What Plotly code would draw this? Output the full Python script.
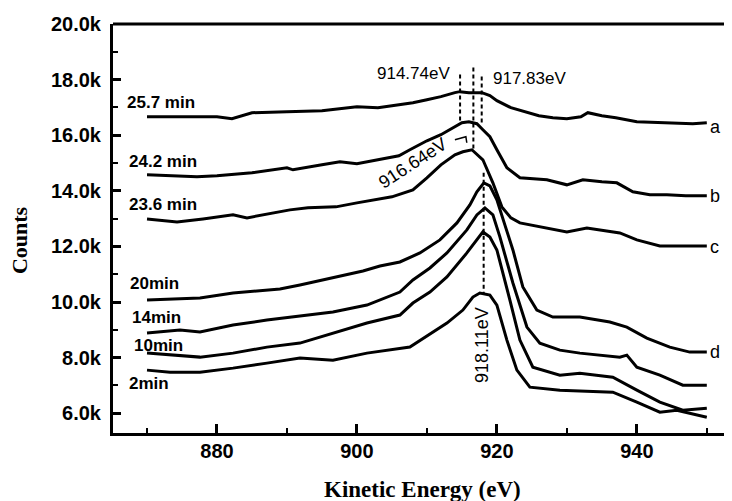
import plotly.graph_objects as go

# ---------------- data ----------------
x_a = [870, 875, 880, 882.14, 885, 890, 895, 900, 903, 905, 908, 910, 912, 914, 914.71, 916, 917.86, 919, 920, 922, 924, 926, 928, 930, 932, 933, 935, 937, 940, 943, 946, 948, 950]
y_a = [16666, 16666, 16666, 16594, 16810, 16846, 16883, 17027, 16991, 17063, 17171, 17279, 17387, 17531, 17567, 17531, 17531, 17423, 17243, 16991, 16846, 16702, 16630, 16594, 16666, 16810, 16702, 16630, 16486, 16450, 16414, 16414, 16450]

x_b = [870, 875, 877.14, 880, 885, 890, 890.86, 895, 897.57, 900, 903, 906, 907.57, 910, 912, 914, 915, 916, 917.14, 918, 919, 920, 921.43, 923.29, 927.14, 930, 932.29, 935, 937.14, 939.43, 941.86, 944.29, 947, 950]
y_b = [14576, 14540, 14504, 14540, 14648, 14828, 14756, 14936, 15044, 14972, 15117, 15261, 15477, 15801, 16017, 16306, 16450, 16486, 16414, 16198, 15945, 15477, 14828, 14468, 14396, 14216, 14396, 14324, 14288, 13964, 13856, 13856, 13820, 13820]

x_c = [870, 874.29, 878, 882.29, 884.29, 888.29, 890.43, 893, 897, 900, 905, 908, 910, 912, 914, 915.14, 916.43, 918, 919.43, 920.71, 922, 923.29, 927.14, 930, 932.86, 935, 937.57, 940, 943.29, 950]
y_c = [12990, 12882, 12990, 13135, 13027, 13207, 13315, 13387, 13423, 13567, 13784, 14036, 14468, 14936, 15297, 15405, 15477, 15117, 14288, 13423, 13027, 12846, 12666, 12522, 12666, 12594, 12486, 12234, 12018, 12018]

x_d = [870, 877.57, 882.29, 889, 891.86, 895.14, 900.86, 903.29, 906.14, 909, 911.86, 914.29, 916.14, 917.14, 918.14, 919, 920, 921.14, 922.29, 923.71, 925.71, 928, 931.86, 936.14, 938.57, 941.43, 944.71, 947.57, 950]
y_d = [10072, 10144, 10325, 10469, 10613, 10793, 11117, 11296, 11441, 11766, 12234, 12846, 13495, 13964, 14288, 14180, 13675, 12774, 11874, 10541, 9712, 9460, 9460, 9280, 9100, 8703, 8379, 8199, 8199]

x_14 = [870, 874.71, 877.57, 882.29, 887.14, 891.86, 896.57, 901.43, 906.14, 908, 910.43, 912.86, 915.71, 917.14, 918.29, 919.43, 920.43, 922.29, 924.29, 926.14, 929, 931.86, 937.57, 938.57, 940, 943.29, 946.57, 950]
y_14 = [8884, 8992, 8920, 9172, 9352, 9496, 9639, 9892, 10359, 10793, 11225, 11766, 12594, 13135, 13387, 13135, 12342, 10685, 9100, 8523, 8271, 8163, 8019, 8091, 7659, 7371, 7011, 7011]

x_10 = [870, 877.57, 882.29, 887.14, 891.86, 896.57, 901.43, 906.14, 908, 910.43, 912.86, 915.71, 918, 919, 920, 921.86, 923.29, 925.14, 929, 931.86, 936.57, 940, 943.29, 946.57, 950]
y_10 = [8163, 8019, 8163, 8379, 8523, 8884, 9244, 9532, 9964, 10359, 10901, 11766, 12522, 12342, 11874, 10072, 8631, 7659, 7371, 7443, 7299, 6831, 6399, 6110, 6183]

x_2 = [870, 873.29, 877.57, 882.29, 887.14, 891.86, 896.57, 901.43, 907.57, 912.86, 915.14, 916.57, 917.57, 919, 920, 921.43, 922.86, 924.71, 929, 936.57, 940, 943.29, 945.71, 950]
y_2 = [7551, 7479, 7479, 7623, 7803, 7983, 7911, 8163, 8379, 9244, 9712, 10180, 10325, 10251, 9892, 8631, 7551, 6939, 6831, 6759, 6399, 6038, 6110, 5858]

series_x = [x_a, x_b, x_c, x_d, x_14, x_10, x_2]
series_y = [y_a, y_b, y_c, y_d, y_14, y_10, y_2]
time_labels = ["25.7 min", "24.2 min", "23.6 min", "20min", "14min", "10min", "2min"]
end_labels = ["a", "b", "c", "d"]

y_tickvals = [6000, 8000, 10000, 12000, 14000, 16000, 18000, 20000]
y_ticktext = ["6.0k", "8.0k", "10.0k", "12.0k", "14.0k", "16.0k", "18.0k", "20.0k"]
y_minor = [7000, 9000, 11000, 13000, 15000, 17000, 19000]
x_tickvals = [880, 900, 920, 940]
x_minor = [870, 890, 910, 930, 950]

peak_energies = [914.74, 916.64, 917.83, 918.11]

# ---------------- figure ----------------
fig = go.Figure()
for xs, ys in zip(series_x, series_y):
    fig.add_trace(go.Scatter(x=xs, y=ys, mode="lines",
                             line=dict(color="black", width=3),
                             showlegend=False, hoverinfo="skip"))
# invisible trace so the right-hand tick axis is drawn
fig.add_trace(go.Scatter(x=[900], y=[10000], yaxis="y2", mode="markers",
                         marker=dict(opacity=0), showlegend=False, hoverinfo="skip"))

sans = "Liberation Sans, Arial, sans-serif"
serif = "Liberation Serif, Times New Roman, serif"

# page body has an 8px default margin, so the figure is sized/offset for it
fig.update_layout(
    width=724, height=493,
    margin=dict(l=105, r=0, t=16, b=68, autoexpand=False),
    paper_bgcolor="white", plot_bgcolor="white",
    xaxis=dict(range=[865.14, 953.6], showgrid=False, zeroline=False, automargin=False,
               showline=True, linecolor="black", linewidth=3,
               tickmode="array", tickvals=x_tickvals,
               ticks="inside", ticklen=9, tickwidth=3, tickcolor="black",
               minor=dict(tickvals=x_minor, ticks="inside", ticklen=5, tickwidth=2, tickcolor="black"),
               tickfont=dict(family=sans, size=20, color="black", weight="bold"),
               ticklabelstandoff=-2),
    yaxis=dict(range=[5290, 20000], showgrid=False, zeroline=False, automargin=False,
               showline=True, linecolor="black", linewidth=3,
               tickmode="array", tickvals=y_tickvals, ticktext=y_ticktext,
               ticks="inside", ticklen=8, tickwidth=3, tickcolor="black",
               minor=dict(tickvals=y_minor, ticks="inside", ticklen=5, tickwidth=2, tickcolor="black"),
               tickfont=dict(family=sans, size=20, color="black", weight="bold"),
               ticklabelstandoff=5),
    yaxis2=dict(range=[5290, 20000], overlaying="y", side="right", showgrid=False,
                zeroline=False, showline=False, automargin=False,
                tickmode="array", tickvals=y_tickvals,
                showticklabels=False, ticks="inside", ticklen=5, tickwidth=2, tickcolor="black"),
)

# axis titles
fig.add_annotation(xref="paper", yref="paper", x=0.5008, y=-0.139, text="Kinetic Energy (eV)",
                   showarrow=False, xanchor="center", yanchor="middle",
                   font=dict(family=serif, size=23, color="black", weight="bold"))
fig.add_annotation(xref="paper", yref="paper", x=-0.150, y=0.472, text="Counts",
                   showarrow=False, xanchor="center", yanchor="middle", textangle=-90,
                   font=dict(family=serif, size=22, color="black", weight="bold"))

# top frame line
fig.add_shape(type="line", xref="paper", yref="paper", x0=0, x1=1, y0=1, y1=1,
              line=dict(color="black", width=3))

# dashed peak lines
dash_spans = [(18180, 16486), (18432, 15477), (18108, 16450), (14648, 10325)]
for e, (y0, y1) in zip(peak_energies, dash_spans):
    fig.add_shape(type="line", x0=e, x1=e, y0=y0, y1=y1,
                  line=dict(color="black", width=2, dash="4px,3px"))

# leader for 916.64eV label
fig.add_shape(type="path", path="M 914.0 15837 L 915.57 15946 L 915.7 15729",
              line=dict(color="black", width=1.5))

ann_font = dict(family=sans, size=17, color="black", weight="bold")
# time labels (left)
time_pos = [(866.86, 17171), (867.14, 15044), (867.14, 13495), (867.3, 10685),
            (867.57, 9458), (867.86, 8450), (867.14, 7080)]
for t, (x, y) in zip(time_labels, time_pos):
    fig.add_annotation(x=x, y=y, text=t, showarrow=False, xanchor="left",
                       yanchor="middle", font=ann_font)

# end labels (right)
end_pos = [16306, 13819, 11981, 8198]
for t, y in zip(end_labels, end_pos):
    fig.add_annotation(x=950.1, y=y, text=t, showarrow=False, xanchor="left",
                       yanchor="middle", font=dict(family=sans, size=18, color="black"))

# energy labels
lab_font = dict(family=sans, size=17, color="black")
fig.add_annotation(x=908.14, y=18216, text=f"{peak_energies[0]:.2f}eV", showarrow=False, font=lab_font)
fig.add_annotation(x=924.71, y=18036, text=f"{peak_energies[2]:.2f}eV", showarrow=False, font=lab_font)
fig.add_annotation(x=908.0, y=15008, text=f"{peak_energies[1]:.2f}eV", showarrow=False,
                   textangle=-33, font=dict(family=sans, size=18, color="black"))
fig.add_annotation(x=917.86, y=8450, text=f"{peak_energies[3]:.2f}eV", showarrow=False,
                   textangle=-90, font=dict(family=sans, size=18, color="black"))

fig.write_html("out.html")
